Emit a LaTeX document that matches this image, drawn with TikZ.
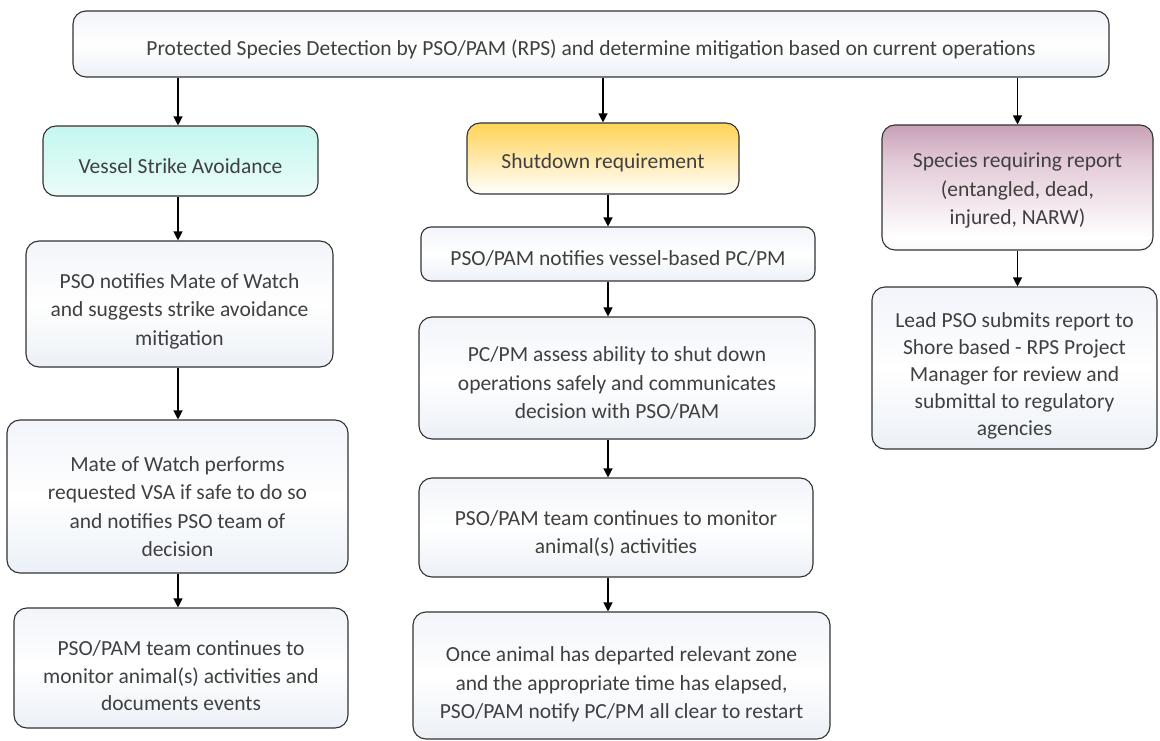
\documentclass[tikz,border=0pt]{standalone}
\usepackage{fontspec}
\setmainfont{Carlito}
\usetikzlibrary{arrows.meta}
\definecolor{txt}{HTML}{404040}
\definecolor{edge}{HTML}{333333}
\definecolor{bluebot}{HTML}{D8E2EF}
\definecolor{bluetop}{HTML}{E4EAF4}
\definecolor{cyantop}{HTML}{B0F4EA}
\definecolor{orangetop}{HTML}{FFC000}
\definecolor{orangemid}{HTML}{FFE49A}
\definecolor{mauvetop}{HTML}{9B5A80}
\definecolor{mauvemid}{HTML}{E3CBD8}
\pgfdeclareverticalshading{defsh}{100bp}{color(0bp)=(bluebot); color(50bp)=(white); color(100bp)=(bluetop)}
\pgfdeclareverticalshading{cyansh}{100bp}{color(0bp)=(white); color(100bp)=(cyantop)}
\pgfdeclareverticalshading{orangesh}{100bp}{color(0bp)=(bluebot); color(25bp)=(white); color(55bp)=(orangemid); color(100bp)=(orangetop)}
\pgfdeclareverticalshading{mauvesh}{100bp}{color(0bp)=(bluebot); color(30bp)=(white); color(60bp)=(mauvemid); color(100bp)=(mauvetop)}
\tikzset{
  box/.style={draw=edge, line width=1.1pt, rounded corners=13pt, shading=defsh, inner sep=0pt},
  tx/.style={text=txt, align=center, inner sep=0pt,
    font=\fontsize{21.5pt}{28.5pt}\selectfont},
  tight/.style={font=\fontsize{21.5pt}{27pt}\selectfont},
  arr/.style={line width=1.2pt, draw=black, -{Triangle[width=9pt,length=9pt]}}
}
\begin{document}
\begin{tikzpicture}[x=1pt,y=-1pt]
\useasboundingbox (0,0) rectangle (1160,741);
% top
\node[box, minimum width=1036pt, minimum height=66pt] (top) at (591,44) {};
\node[tx] (topt) at ([yshift=-5pt]top.center)
  {Protected Species Detection by PSO/PAM (RPS) and determine mitigation based on current operations};
% headers
\node[box, shading=cyansh, minimum width=275pt, minimum height=70pt] (vsa) at (180.5,161) {};
\node[tx] (vsat) at ([yshift=-5pt]vsa.center) {Vessel Strike Avoidance};
\node[box, shading=orangesh, minimum width=272pt, minimum height=71pt] (shut) at (603,158.5) {};
\node[tx] (shutt) at ([yshift=-4pt]shut.center) {Shutdown requirement};
\node[box, shading=mauvesh, minimum width=271pt, minimum height=125pt] (spec) at (1017.5,187.5) {};
\node[tx] (spect) at ([yshift=-3pt]spec.center) {Species requiring report\\(entangled, dead,\\injured, NARW)};
% right column
\node[box, minimum width=285pt, minimum height=162pt] (lead) at (1014.5,368) {};
\node[tx, tight] (leadt) at ([yshift=-8pt]lead.center)
  {Lead PSO submits report to\\Shore based - RPS Project\\Manager for review and\\submittal to regulatory\\agencies};
% left column
\node[box, minimum width=307pt, minimum height=126pt] (l1) at (179.5,304) {};
\node[tx] (l1t) at ([yshift=-7pt]l1.center)
  {PSO notifies Mate of Watch\\and suggests strike avoidance\\mitigation};
\node[box, minimum width=341pt, minimum height=153pt] (l2) at (177.5,496.5) {};
\node[tx] (l2t) at ([yshift=-10pt]l2.center)
  {Mate of Watch performs\\requested VSA if safe to do so\\and notifies PSO team of\\decision};
\node[box, minimum width=334pt, minimum height=120pt] (l3) at (181,668) {};
\node[tx, font=\fontsize{21.5pt}{27.5pt}\selectfont] (l3t) at ([yshift=-8pt]l3.center)
  {PSO/PAM team continues to\\monitor animal(s) activities and\\documents events};
% middle column
\node[box, rounded corners=10pt, minimum width=394pt, minimum height=54pt] (m1) at (618,254) {};
\node[tx] (m1t) at ([yshift=-4pt]m1.center) {PSO/PAM notifies vessel-based PC/PM};
\node[box, minimum width=396pt, minimum height=122pt] (m2) at (617,378) {};
\node[tx] (m2t) at ([yshift=-5pt]m2.center)
  {PC/PM assess ability to shut down\\operations safely and communicates\\decision with PSO/PAM};
\node[box, minimum width=394pt, minimum height=99pt] (m3) at (616,527.5) {};
\node[tx, font=\fontsize{21.5pt}{28pt}\selectfont] (m3t) at ([yshift=-6pt]m3.center)
  {PSO/PAM team continues to monitor\\animal(s) activities};
\node[box, minimum width=417pt, minimum height=127pt] (m4) at (621.5,675.5) {};
\node[tx] (m4t) at ([yshift=-9pt]m4.center)
  {Once animal has departed relevant zone\\and the appropriate time has elapsed,\\PSO/PAM notify PC/PM all clear to restart};
% connectors
\coordinate (lx) at (178,0);
\coordinate (mx) at (608,0);
\draw[arr] (top.south -| lx) -- (vsa.north -| lx);
\draw[arr] (top.south -| shut) -- (shut.north);
\draw[arr] (top.south -| spec) -- (spec.north);
\draw[arr] (vsa.south -| lx) -- (l1.north -| lx);
\draw[arr] (l1.south -| lx) -- (l2.north -| lx);
\draw[arr] (l2.south -| lx) -- (l3.north -| lx);
\draw[arr] (shut.south -| mx) -- (m1.north -| mx);
\draw[arr] (m1.south -| mx) -- (m2.north -| mx);
\draw[arr] (m2.south -| mx) -- (m3.north -| mx);
\draw[arr] (m3.south -| mx) -- (m4.north -| mx);
\draw[arr] (spec.south) -- (lead.north -| spec);
\end{tikzpicture}
\end{document}
